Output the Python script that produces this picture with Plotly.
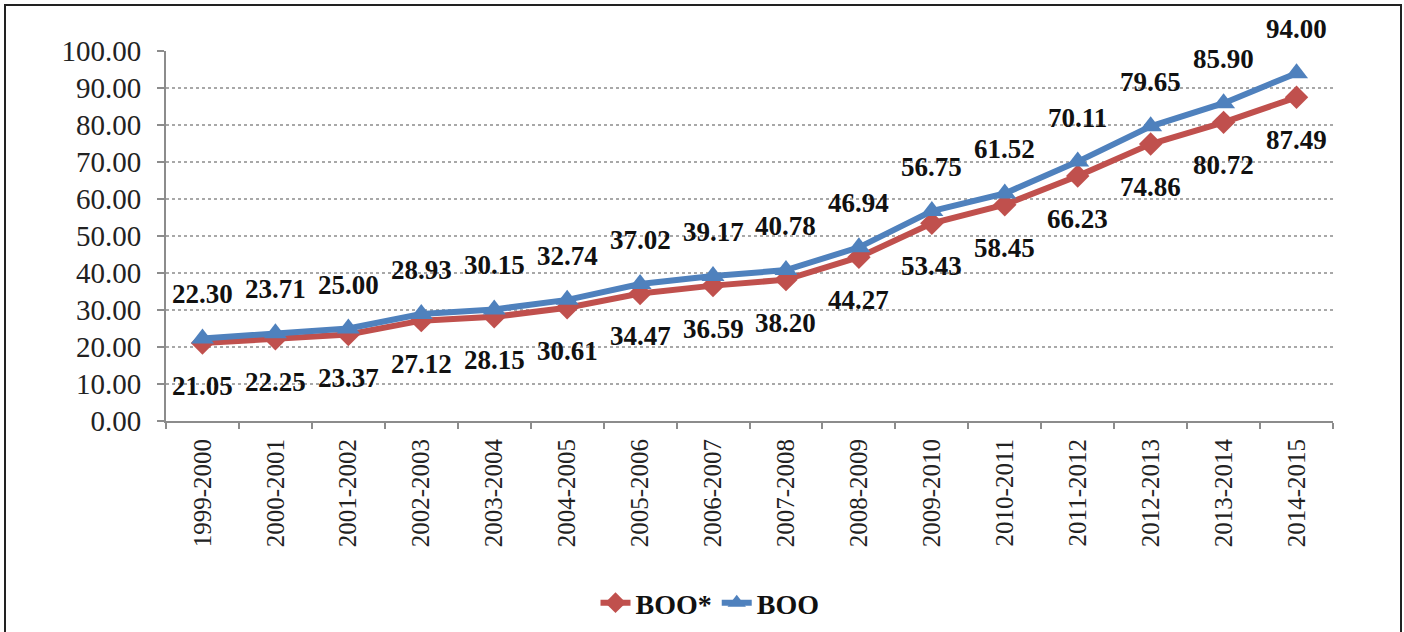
import plotly.graph_objects as go

categories = ["1999-2000", "2000-2001", "2001-2002", "2002-2003", "2003-2004", "2004-2005",
              "2005-2006", "2006-2007", "2007-2008", "2008-2009", "2009-2010", "2010-2011",
              "2011-2012", "2012-2013", "2013-2014", "2014-2015"]
boo_star = [21.05, 22.25, 23.37, 27.12, 28.15, 30.61, 34.47, 36.59, 38.20, 44.27,
            53.43, 58.45, 66.23, 74.86, 80.72, 87.49]
boo = [22.30, 23.71, 25.00, 28.93, 30.15, 32.74, 37.02, 39.17, 40.78, 46.94,
       56.75, 61.52, 70.11, 79.65, 85.90, 94.00]
y_ticks = [0, 10, 20, 30, 40, 50, 60, 70, 80, 90, 100]

RED = "#C0504D"
BLUE = "#4F81BD"
SERIF = "Liberation Serif, Times New Roman, serif"

fig = go.Figure()
fig.add_trace(go.Scatter(x=categories, y=boo_star, name="BOO*", mode="lines+markers",
                         line=dict(color=RED, width=6),
                         marker=dict(symbol="diamond", size=18, color=RED)))
fig.add_trace(go.Scatter(x=categories, y=boo, name="BOO", mode="lines+markers",
                         line=dict(color=BLUE, width=6),
                         marker=dict(symbol="triangle-up", size=20, color=BLUE)))

annotations = []
for c, v in zip(categories, boo):
    annotations.append(dict(x=c, y=v, text=f"{v:.2f}", showarrow=False, yshift=44,
                            font=dict(family=SERIF, size=27, color="#111111", weight="bold")))
for c, v in zip(categories, boo_star):
    annotations.append(dict(x=c, y=v, text=f"{v:.2f}", showarrow=False, yshift=-43,
                            font=dict(family=SERIF, size=27, color="#111111", weight="bold")))

ml, mt = 166, 51
pw, ph = 1167, 370
def px(x):
    return (x - ml) / pw
def py(y):
    return (mt + ph - y) / ph

fig.update_layout(
    width=1404, height=632,
    margin=dict(l=ml, r=1404 - ml - pw, t=mt, b=632 - mt - ph, pad=0, autoexpand=False),
    paper_bgcolor="white", plot_bgcolor="white",
    showlegend=True,
    legend=dict(orientation="h", x=710 / 1404, xanchor="center", xref="container",
                y=1 - 603 / 632, yanchor="middle", yref="container",
                font=dict(family=SERIF, size=28, color="#111111", weight="bold"),
                tracegroupgap=0),
    annotations=annotations,
    shapes=[dict(type="rect", xref="paper", yref="paper",
                 x0=px(5), x1=px(1401), y0=py(5), y1=py(640),
                 line=dict(color="#222222", width=2), layer="below")],
    xaxis=dict(type="category", showgrid=False, showline=True, linecolor="#8c8c8c", linewidth=2,
               ticks="outside", ticklen=6, tickcolor="#8c8c8c", tickwidth=2, tickson="boundaries",
               tickangle=-90, range=[-0.5, 15.5], automargin=False, ticklabelstandoff=6,
               tickfont=dict(family=SERIF, size=25, color="#222222")),
    yaxis=dict(range=[0, 100], tickvals=y_ticks, ticktext=[f"{t:.2f}" for t in y_ticks],
               showline=True, linecolor="#8c8c8c", linewidth=2, automargin=False,
               ticks="outside", ticklen=7, tickcolor="#8c8c8c", tickwidth=2, ticklabelstandoff=10,
               showgrid=True, gridcolor="#a8a8a8", griddash="dot", gridwidth=1.5,
               zeroline=False,
               tickfont=dict(family=SERIF, size=29, color="#222222")),
)

fig.write_html("out.html", config={"displayModeBar": False},
               post_script="document.body.style.margin='0';document.body.style.overflow='hidden';")
